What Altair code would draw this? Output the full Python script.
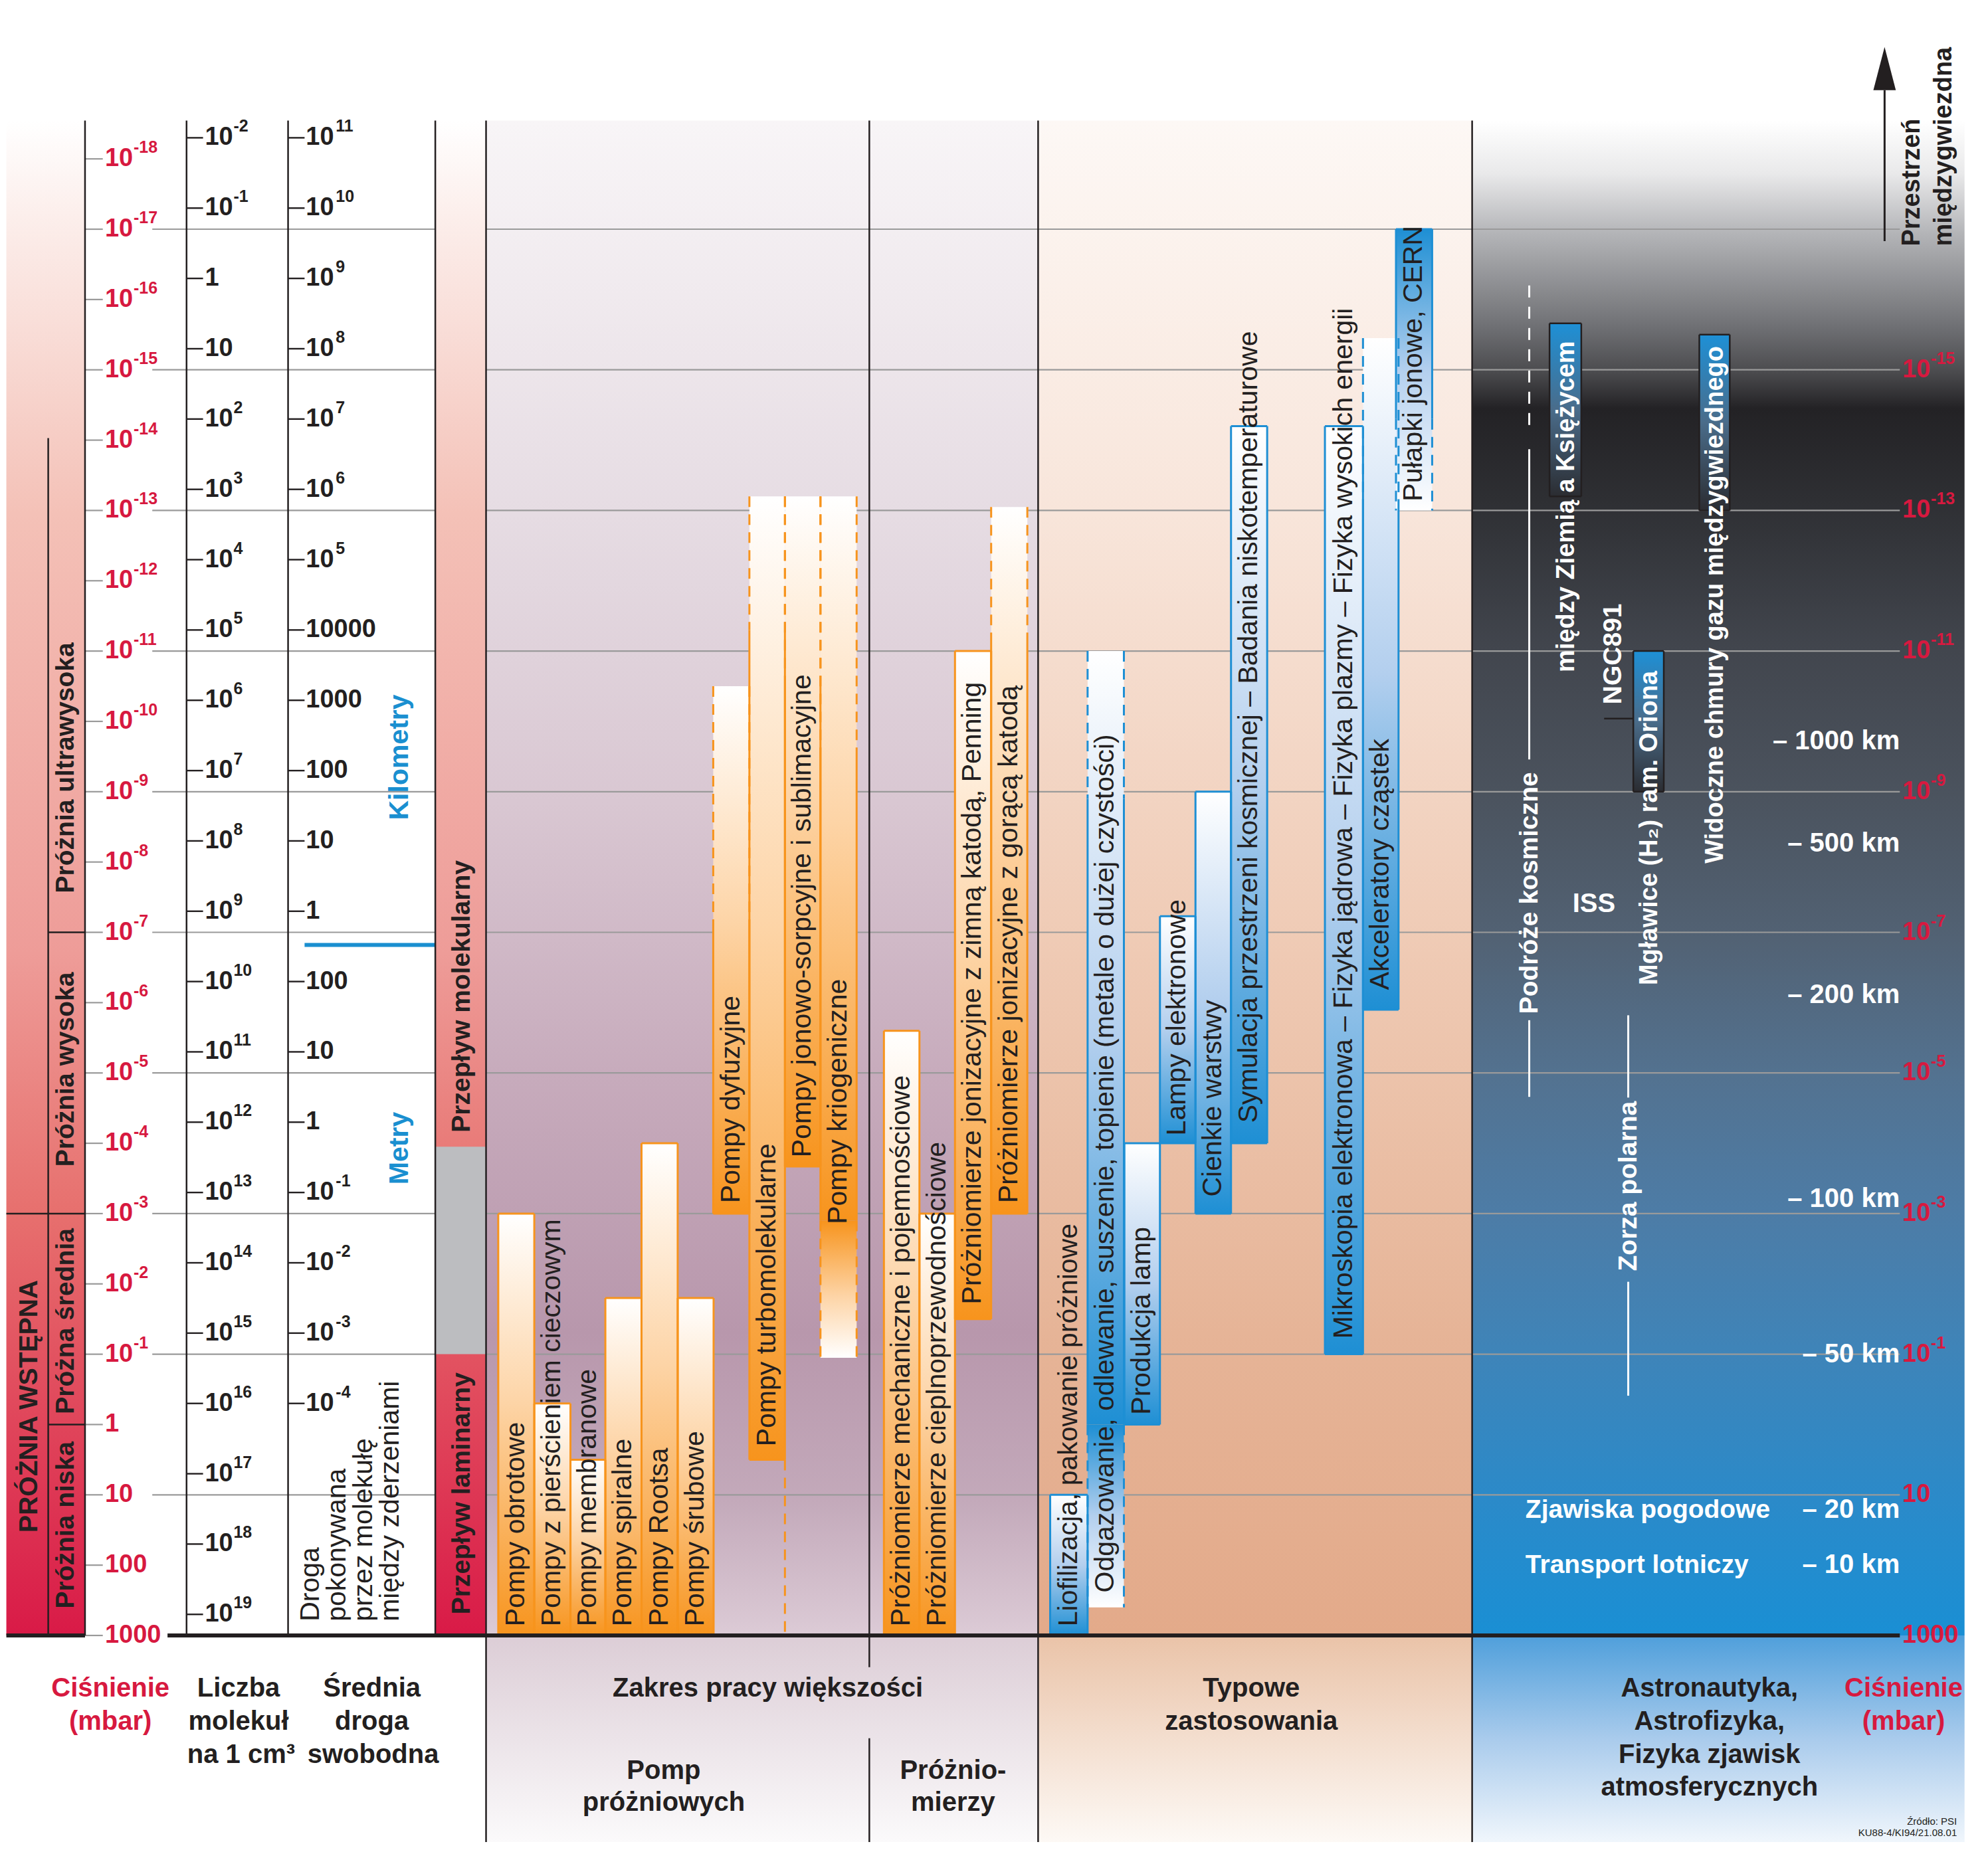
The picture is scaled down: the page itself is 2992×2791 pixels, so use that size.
import altair as alt
import pandas as pd

# ======================= DATA =======================
# Pressure axis, values are log10(p / mbar)
pressure_exp = [-18, -17, -16, -15, -14, -13, -12, -11, -10, -9, -8, -7, -6, -5, -4, -3, -2, -1, 0, 1, 2, 3]
pressure_base = ["10"] * 18 + ["1", "10", "100", "1000"]
pressure_sup = ["-18", "-17", "-16", "-15", "-14", "-13", "-12", "-11", "-10", "-9", "-8", "-7",
                "-6", "-5", "-4", "-3", "-2", "-1", "", "", "", ""]
grid_exp = [-17, -15, -13, -11, -9, -7, -5, -3, -1, 1]

right_pressure_exp = [-15, -13, -11, -9, -7, -5, -3, -1, 1, 3]
right_pressure_base = ["10", "10", "10", "10", "10", "10", "10", "10", "10", "1000"]
right_pressure_sup = ["-15", "-13", "-11", "-9", "-7", "-5", "-3", "-1", "", ""]

# Number of molecules per cm3 (10^k)
molecule_exp = [-2, -1, 0, 1, 2, 3, 4, 5, 6, 7, 8, 9, 10, 11, 12, 13, 14, 15, 16, 17, 18, 19]
molecule_base = ["10", "10", "1", "10"] + ["10"] * 18
molecule_sup = ["-2", "-1", "", "", "2", "3", "4", "5", "6", "7", "8", "9", "10", "11", "12",
                "13", "14", "15", "16", "17", "18", "19"]
MOLECULE_TO_P = -16.3          # log10 p = log10 n + MOLECULE_TO_P

# Mean free path, log10(lambda / m)
free_path_exp = [14, 13, 12, 11, 10, 9, 8, 7, 6, 5, 4, 3, 2, 1, 0, -1, -2, -3, -4]
free_path_base = ["10", "10", "10", "10", "10", "10", "10", "10000", "1000", "100", "10", "1",
                  "100", "10", "1", "10", "10", "10", "10"]
free_path_sup = ["11", "10", "9", "8", "7", "6", "5", "", "", "", "", "", "", "", "", "-1", "-2", "-3", "-4"]
FREE_PATH_TO_P = -4.3          # log10 p = FREE_PATH_TO_P - log10 lambda
KM_M_BOUNDARY = -6.82

# Flow regimes (log10 p)
flow_molecular_end = -3.95
flow_laminar_start = -1.0

# Working ranges: top = lowest pressure, bottom = highest pressure (log10 mbar)
bar_names = [
    "Pompy obrotowe", "Pompy z pierścieniem cieczowym", "Pompy membranowe", "Pompy spiralne",
    "Pompy Rootsa", "Pompy śrubowe", "Pompy dyfuzyjne", "Pompy turbomolekularne",
    "Pompy jonowo-sorpcyjne i sublimacyjne", "Pompy kriogeniczne",
    "Próżniomierze mechaniczne i pojemnościowe", "Próżniomierze cieplnoprzewodnościowe",
    "Próżniomierze jonizacyjne z zimną katodą, Penning", "Próżniomierze jonizacyjne z gorącą katodą",
    "Liofilizacja, pakowanie próżniowe",
    "Odgazowanie, odlewanie, suszenie, topienie (metale o dużej czystości)",
    "Produkcja lamp", "Lampy elektronowe", "Cienkie warstwy",
    "Symulacja przestrzeni kosmicznej – Badania niskotemperaturowe",
    "Mikroskopia elektronowa – Fizyka jądrowa – Fizyka plazmy – Fizyka wysokich energii",
    "Akceleratory cząstek", "Pułapki jonowe, CERN",
    "między Ziemią a Księżycem", "Mgławice (H₂) ram. Oriona", "Widoczne chmury gazu międzygwiezdnego"]
bar_group = ["pump"] * 10 + ["gauge"] * 4 + ["app"] * 9 + ["astro"] * 3
bar_top = [-3, -0.3, 0.5, -1.8, -4, -1.8, -10.5, -13.2, -13.2, -13.2,
           -5.6, -3, -11, -13.05,
           1, -11, -4, -7.23, -9, -14.2, -14.2, -15.45, -17,
           -15.66, -11, -15.5]
bar_solid_top = [-3, -0.3, 0.5, -1.8, -4, -1.8, -7.1, -11.3, -10.5, -9.5,
                 -5.6, -3, -11, -11.2,
                 1, -8.9, -4, -7.23, -9, -14.2, -14.2, -13.16, -17,
                 -15.66, -11, -15.5]
bar_solid_bottom = [3, 3, 3, 3, 3, 3, -3, 0.5, -3.67, -2.9,
                    3, 3, -1.5, -3,
                    3, 0, 0, -4, -3, -4, -1, -5.9, -14.3,
                    -13.2, -9, -13]
bar_bottom = [3, 3, 3, 3, 3, 3, -3, 0.5, -3.67, -0.95,
              3, 3, -1.5, -3,
              3, 2.6, 0, -4, -3, -4, -1, -5.9, -13,
              -13.2, -9, -13]
bar_fill_dir = ["down"] * 22 + ["up"] + ["down"] * 3
bar_fade_below = [False] * 9 + [True] + [False] * 5 + [True] + [False] * 10
bar_label_start = [2.87, 2.87, 2.87, 2.87, 2.87, 2.87, -3.15, 0.31, -3.8, -2.85,
                   2.87, 2.87, -1.71, -3.15,
                   2.87, 2.39, -0.14, -4.11, -3.24, -4.29, -1.22, -6.18, -13.13,
                   -10.7, -6.25, -7.98]

# Astronautics annotations
space_lines = [(1205, -16.2, -14.1, True), (1205, -13.87, -9.46, False), (1205, -5.75, -4.66, False),
               (1283, -5.82, -4.65, False), (1283, -2.03, -0.41, False)]
altitude_labels = ["– 1000 km", "– 500 km", "– 200 km", "– 100 km", "– 50 km", "– 20 km", "– 10 km"]
altitude_p = [-9.72, -8.26, -6.11, -3.21, -1.0, 1.21, 2.0]

# ======================= LAYOUT (display units) =======================
W, H = 2972, 2765
X0, X1 = 4.19, 1560.2
Y0, Y1 = -20.184, 5.938


def lpD(yd):
    return 3 + (yd - 1289) / 55.42


slot_left = [392.6, 421, 449.5, 477, 505.5, 534, 562, 590.5, 618.5, 646.5,
             696.5, 724.5, 752.5, 781,
             827.5, 857, 886, 914, 942, 970, 1044, 1074, 1100,
             1221, 1287, 1339]
slot_right = [421, 449.5, 477, 505.5, 534, 562.3, 590.5, 618.5, 646.5, 675,
              724.5, 752.5, 781, 809.5,
              857, 885.6, 914, 942, 970, 998.5, 1074, 1102, 1128.5,
              1246, 1311, 1363]

FONT = "Liberation Sans"
DARK = "#231f20"
RED = "#d7193f"
GRID = "#9a9a9a"
ORANGE = "#f7941d"
BLUE = "#1e8fd4"
TXT_BLUE = "#1a8fd0"

XS = alt.Scale(domain=[X0, X1], nice=False, zero=False)
YS = alt.Scale(domain=[Y0, Y1], nice=False, zero=False, reverse=True)


def grad(stops):
    return alt.LinearGradient(gradient="linear",
                              stops=[alt.GradientStop(offset=o, color=c) for o, c in stops],
                              x1=0, x2=0, y1=0, y2=1)


def xq(f):
    return alt.X(f, type="quantitative", scale=XS, axis=None)


def yq(f):
    return alt.Y(f, type="quantitative", scale=YS, axis=None)


def rects(rows, **mk):
    df = pd.DataFrame(rows, columns=["x0", "x1", "y0", "y1"])
    return alt.Chart(df).mark_rect(**mk).encode(x=xq("x0"), x2="x1", y=yq("y0"), y2="y1")


def segs(rows, **mk):
    df = pd.DataFrame(rows, columns=["x0", "x1", "y0", "y1"])
    return alt.Chart(df).mark_rule(**mk).encode(x=xq("x0"), x2="x1", y=yq("y0"), y2="y1")


def texts(rows, **mk):
    df = pd.DataFrame(rows, columns=["t", "x", "y"])
    base = dict(font=FONT)
    base.update(mk)
    return alt.Chart(df).mark_text(**base).encode(x=xq("x"), y=yq("y"), text="t:N")


TOP = lpD(95)
BOTTOM = 3
layers = []

# ---------- backgrounds ----------
PINK = [(0, "#ffffff"), (0.06, "#fcefec"), (0.26, "#f4c1b7"), (0.55, "#ee9c98"), (0.72, "#e7706e"), (1, "#d91a47")]
layers.append(rects([(5, 67, TOP, BOTTOM)], fill=grad(PINK)))
layers.append(rects([(383, 818, TOP, BOTTOM)], fill=grad(
    [(0, "#f8f5f7"), (0.26, "#e6dce3"), (0.45, "#d9c7d2"), (0.63, "#c7abbc"), (0.8, "#b897ac"), (0.91, "#c3a9ba"), (1, "#dccbd6")])))
layers.append(rects([(818, 1160, TOP, BOTTOM)], fill=grad(
    [(0, "#fdf8f5"), (0.26, "#f8e5da"), (0.55, "#efcab4"), (0.8, "#e6b497"), (1, "#e3aa8a")])))
layers.append(rects([(1160, 1548, TOP, BOTTOM)], fill=grad(
    [(0, "#ffffff"), (0.035, "#e9e9ea"), (0.074, "#b4b5b8"), (0.137, "#6e6f73"), (0.166, "#4b4b4e"),
     (0.19, "#232225"), (0.25, "#2e2f33"), (0.35, "#42464e"), (0.445, "#4b535e"), (0.54, "#526274"),
     (0.63, "#537290"), (0.72, "#4d7ca6"), (0.81, "#3f84b8"), (0.91, "#2b8ac9"), (1, "#1a8fd4")])))
layers.append(rects([(383, 818, BOTTOM, Y1)], fill=grad([(0, "#dccdd6"), (1, "#fbfafb")])))
layers.append(rects([(818, 1160, BOTTOM, Y1)], fill=grad([(0, "#eac3a8"), (1, "#fdf9f5")])))
layers.append(rects([(1160, 1548, BOTTOM, Y1)], fill=grad([(0, "#4f9fdb"), (0.5, "#a9cbec"), (1, "#f0f6fc")])))

# ---------- grid lines and ticks ----------
layers.append(segs([(120, 1497, e, e) for e in grid_exp], color=GRID, strokeWidth=2.2))
layers.append(segs([(67, 81, e, e) for e in pressure_exp], color=GRID, strokeWidth=2.2))
layers.append(segs([(147, 160, e + MOLECULE_TO_P, e + MOLECULE_TO_P) for e in molecule_exp], color=DARK, strokeWidth=2.4))
layers.append(segs([(227, 240, FREE_PATH_TO_P - e, FREE_PATH_TO_P - e) for e in free_path_exp], color=DARK, strokeWidth=2.4))
layers.append(segs([(240, 343, KM_M_BOUNDARY, KM_M_BOUNDARY)], color=TXT_BLUE, strokeWidth=6))

# ---------- flow column ----------
layers.append(rects([(343, 383, TOP, BOTTOM)], fill=grad(PINK)))
layers.append(rects([(343, 383, flow_molecular_end, flow_laminar_start)], color="#bcbdc0"))

# ---------- structural black lines ----------
vlines = [(67, 67, TOP, 3), (147, 147, TOP, 3), (227, 227, TOP, 3), (343, 343, TOP, 3),
          (38, 38, -14.03, 3), (383, 383, TOP, Y1), (818, 818, TOP, Y1), (1160, 1160, TOP, Y1),
          (685, 685, TOP, lpD(1314)), (685, 685, lpD(1370), Y1),
          (5, 67, -3, -3), (38, 67, -7, -7), (38, 67, 0, 0)]
layers.append(segs(vlines, color=DARK, strokeWidth=2.5))

# ---------- bars ----------
bars = pd.DataFrame(dict(name=bar_names, group=bar_group, top=bar_top, stop=bar_solid_top,
                         sbot=bar_solid_bottom, bot=bar_bottom, dir=bar_fill_dir,
                         fade=bar_fade_below, lab=bar_label_start, x0=slot_left, x1=slot_right))

PALETTE = {
    ("o", "down"): [(0, "#ffffff"), (0.45, "#fdd4a6"), (1, ORANGE)],
    ("o", "up"): [(0, ORANGE), (0.55, "#fdd4a6"), (1, "#ffffff")],
    ("b", "down"): [(0, "#ffffff"), (0.5, "#b3cfee"), (1, BLUE)],
    ("b", "up"): [(0, BLUE), (0.5, "#b3cfee"), (1, "#ffffff")],
    ("a", "down"): [(0, "#1e90d6"), (0.5, "#4a6c8a"), (1, "#2b2c31")],
}
fam = {"pump": "o", "gauge": "o", "app": "b", "astro": "a"}
edge_color = {"o": ORANGE, "b": BLUE, "a": DARK}

fill_rows = {}
solid_rows = {}
dash_rows = {}
for r in bars.itertuples():
    f = fam[r.group]
    main_end = r.sbot if r.fade else r.bot
    fill_rows.setdefault((f, r.dir), []).append((r.x0, r.x1, r.top, main_end))
    if r.fade:
        fill_rows.setdefault((f, "up"), []).append((r.x0, r.x1, r.sbot, r.bot))
    sl = solid_rows.setdefault(f, [])
    dl = dash_rows.setdefault(f, [])
    for xx in (r.x0, r.x1):
        if r.sbot > r.stop:
            sl.append((xx, xx, r.stop, r.sbot))
        if r.stop > r.top:
            dl.append((xx, xx, r.top, r.stop))
        if r.bot > r.sbot:
            dl.append((xx, xx, r.sbot, r.bot))
    if r.stop == r.top:
        sl.append((r.x0, r.x1, r.top, r.top))
    if r.sbot == r.bot:
        sl.append((r.x0, r.x1, r.bot, r.bot))

for key, rows in fill_rows.items():
    layers.append(rects(rows, fill=grad(PALETTE[key])))
dash_rows["o"].append((618.5, 618.5, 0.5, 3))
for f, rows in dash_rows.items():
    if rows:
        layers.append(segs(rows, color=edge_color[f], strokeWidth=3, strokeDash=[16, 11]))
for f, rows in solid_rows.items():
    layers.append(segs(rows, color=edge_color[f], strokeWidth=3 if f != "a" else 2.5))

# ---------- astronautics lines ----------
layers.append(segs([(x, x, a, b) for x, a, b, d in space_lines if not d], color="white", strokeWidth=3))
layers.append(segs([(x, x, a, b) for x, a, b, d in space_lines if d], color="white", strokeWidth=3, strokeDash=[18, 14]))
layers.append(segs([(1264, 1287, -10.04, -10.04)], color=DARK, strokeWidth=2.5))

# ---------- thick 1000 mbar line ----------
layers.append(segs([(5, 67, 3, 3), (132, 1497, 3, 3)], color=DARK, strokeWidth=6))

# ---------- top arrow ----------
layers.append(segs([(1485, 1485, lpD(71), lpD(190))], color=DARK, strokeWidth=3))
arrow_df = pd.DataFrame({"x": [1485], "y": [lpD(54)]})
layers.append(alt.Chart(arrow_df).mark_point(shape="M -0.52 1 L 0 -1 L 0.52 1 Z", size=4225,
                                             filled=True, color=DARK, opacity=1)
              .encode(x=xq("x"), y=yq("y")))

# ---------- texts ----------
# pressure labels, left and right
def base_sup(xb, ps, bases, sups, color, size_b=38, size_s=25, dx=43):
    out = []
    out.append(texts([(b, xb, p) for b, p in zip(bases, ps)], align="left", baseline="middle",
                     fontSize=size_b, fontWeight="bold", color=color))
    out.append(texts([(s, xb, p) for s, p in zip(sups, ps) if s], align="left", baseline="middle",
                     fontSize=size_s, fontWeight="bold", color=color, dx=dx, dy=-17))
    return out


layers += base_sup(82.7, pressure_exp, pressure_base, pressure_sup, RED)
layers += base_sup(1499, right_pressure_exp, right_pressure_base, right_pressure_sup, RED)
layers += base_sup(161.5, [e + MOLECULE_TO_P for e in molecule_exp], molecule_base, molecule_sup, DARK)
layers += base_sup(241, [FREE_PATH_TO_P - e for e in free_path_exp], free_path_base, free_path_sup, DARK, dx=45)

# rotated column captions
layers.append(texts([("Próżnia ultrawysoka", 52, -9.34), ("Próżnia wysoka", 52, -5.05),
                     ("Próżna średnia", 52, -1.47), ("Próżnia niska", 52, 1.43),
                     ("PRÓŻNIA WSTĘPNA", 23, -0.26), ("Przepływ molekularny", 364, -6.09),
                     ("Przepływ laminarny", 364, 0.98)],
                    angle=270, align="center", baseline="middle", fontSize=39, fontWeight="bold", color=DARK))
layers.append(texts([("Kilometry", 315, -9.49), ("Metry", 315, -3.93)],
                    angle=270, align="center", baseline="middle", fontSize=41, fontWeight="bold", color=TXT_BLUE))
layers.append(texts([("Droga", 245, 2.8), ("pokonywana", 266, 2.8), ("przez molekułę", 287, 2.8),
                     ("między zderzeniami", 308, 2.8)],
                    angle=270, align="left", baseline="middle", fontSize=41, color=DARK))

# bar labels
lab_dark = [(r.name, (r.x0 + r.x1) / 2, r.lab) for r in bars.itertuples() if r.group != "astro"]
lab_astro = [(r.name, (r.x0 + r.x1) / 2 + 1, r.lab) for r in bars.itertuples() if r.group == "astro"]
layers.append(texts(lab_dark, angle=270, align="left", baseline="middle", fontSize=41, color=DARK))
layers.append(texts(lab_astro, angle=270, align="left", baseline="middle", fontSize=38,
                    fontWeight="bold", color="white"))

# astronautics texts
layers.append(texts([("Podróże kosmiczne", 1205, -7.56), ("Zorza polarna", 1283, -3.39), ("NGC891", 1271, -10.96)],
                    angle=270, align="center", baseline="middle", fontSize=39, fontWeight="bold", color="white"))
layers.append(texts([("ISS", 1256, -7.4)], align="center", baseline="middle", fontSize=40,
                    fontWeight="bold", color="white"))
layers.append(texts([("Zjawiska pogodowe", 1202, 1.21), ("Transport lotniczy", 1202, 2.0)],
                    align="left", baseline="middle", fontSize=39, fontWeight="bold", color="white"))
layers.append(texts(list(zip(altitude_labels, [1497] * 7, altitude_p)),
                    align="right", baseline="middle", fontSize=40, fontWeight="bold", color="white"))
layers.append(texts([("Przestrzeń", 1507, lpD(194)), ("międzygwiezdna", 1532, lpD(194))],
                    angle=270, align="left", baseline="middle", fontSize=38, fontWeight="bold", color=DARK))

# bottom captions
cap_red = [("Ciśnienie", 87, 1331), ("(mbar)", 87, 1357), ("Ciśnienie", 1500, 1331), ("(mbar)", 1500, 1357)]
cap_dark = [("Liczba", 188, 1331), ("molekuł", 188, 1357), ("na 1 cm³", 190, 1383),
            ("Średnia", 293, 1331), ("droga", 293, 1357), ("swobodna", 294, 1383),
            ("Zakres pracy większości", 605, 1331), ("Pomp", 523, 1396), ("próżniowych", 523, 1421),
            ("Próżnio-", 751, 1396), ("mierzy", 751, 1421),
            ("Typowe", 986, 1331), ("zastosowania", 986, 1357),
            ("Astronautyka,", 1347, 1331), ("Astrofizyka,", 1347, 1357),
            ("Fizyka zjawisk", 1347, 1383), ("atmosferycznych", 1347, 1409)]
layers.append(texts([(t, x, lpD(y)) for t, x, y in cap_red], align="center", baseline="middle",
                    fontSize=40, fontWeight="bold", color=RED))
layers.append(texts([(t, x, lpD(y)) for t, x, y in cap_dark], align="center", baseline="middle",
                    fontSize=40, fontWeight="bold", color=DARK))
layers.append(texts([("Źródło: PSI", 1542, 5.72), ("KU88-4/KI94/21.08.01", 1542, 5.88)],
                    align="right", baseline="bottom", fontSize=15, color=DARK))

chart = alt.layer(*layers).properties(
    width=W, height=H, padding=0, background="white",
    autosize=alt.AutoSizeParams(type="none")
).configure_view(stroke=None)

chart.save("out.html", embed_options={"renderer": "svg", "actions": False})
